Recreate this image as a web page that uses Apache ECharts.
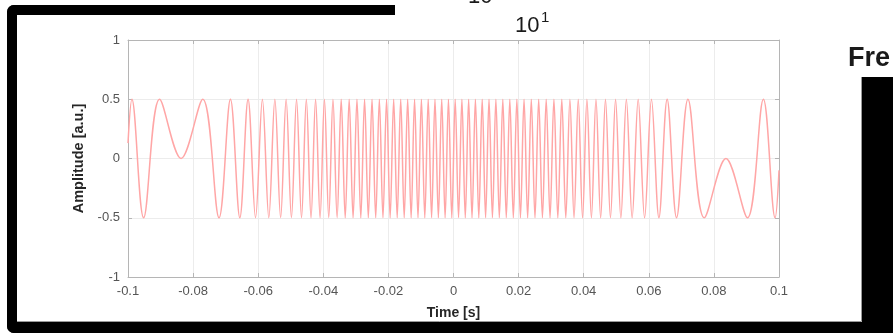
<!DOCTYPE html>
<html>
<head>
<meta charset="utf-8">
<script src="https://cdn.jsdelivr.net/npm/echarts@6/dist/echarts.min.js"></script>
<style>
  html, body { margin: 0; padding: 0; background: #ffffff; }
  #chart { width: 893px; height: 333px; }
</style>
</head>
<body>
<div id="chart"></div>
<script>
// Chirp signal: extrema of the waveform, in seconds
const peakTimes = [
  -0.0988, -0.0903,
  -0.07703, -0.06853, -0.06311, -0.05871, -0.05488, -0.05142, -0.04822, -0.04521, -0.04237,
  -0.03965, -0.03703, -0.03450, -0.03205, -0.02966, -0.02732, -0.02503, -0.02278, -0.02056,
  -0.01838, -0.01622, -0.01408, -0.01196, -0.00986, -0.00777, -0.00569, -0.00362, -0.00155,
  0.00052, 0.00258, 0.00465, 0.00673, 0.00882, 0.01091, 0.01302, 0.01515, 0.01730, 0.01947,
  0.02167, 0.02390, 0.02617, 0.02848, 0.03085, 0.03327, 0.03576, 0.03833, 0.04099, 0.04377,
  0.04669, 0.04979, 0.05311, 0.05674, 0.06082, 0.06564, 0.07204,
  0.0952
];
const troughTimes = [
  -0.0952,
  -0.07204, -0.06564, -0.06082, -0.05674, -0.05311, -0.04979, -0.04669, -0.04377, -0.04099,
  -0.03833, -0.03576, -0.03327, -0.03085, -0.02848, -0.02617, -0.02390, -0.02167, -0.01947,
  -0.01730, -0.01515, -0.01302, -0.01091, -0.00882, -0.00673, -0.00465, -0.00258, -0.00052,
  0.00155, 0.00362, 0.00569, 0.00777, 0.00986, 0.01196, 0.01408, 0.01622, 0.01838, 0.02056,
  0.02278, 0.02503, 0.02732, 0.02966, 0.03205, 0.03450, 0.03703, 0.03965, 0.04237, 0.04521,
  0.04822, 0.05142, 0.05488, 0.05871, 0.06311, 0.06853, 0.07703,
  0.0903, 0.0988
];
const peakValue = 0.5;
const troughValue = -0.5;
// Turning points where the instantaneous frequency passes through zero
const turnTimes = [-0.0837, 0.0837];
const turnValues = [0, 0];
// First and last samples of the record
const endTimes = [-0.1, 0.1];
const endValues = [0.13, -0.1];

const xTickValues = [-0.1, -0.08, -0.06, -0.04, -0.02, 0, 0.02, 0.04, 0.06, 0.08, 0.1];
const xTickLabels = ['-0.1', '-0.08', '-0.06', '-0.04', '-0.02', '0', '0.02', '0.04', '0.06', '0.08', '0.1'];
const yTickValues = [-1, -0.5, 0, 0.5, 1];
const yTickLabels = ['-1', '-0.5', '0', '0.5', '1'];

// Assemble the waveform points in time order
const points = [];
peakTimes.forEach(t => points.push([t, peakValue]));
troughTimes.forEach(t => points.push([t, troughValue]));
turnTimes.forEach((t, i) => points.push([t, turnValues[i]]));
endTimes.forEach((t, i) => points.push([t, endValues[i]]));
points.sort((a, b) => a[0] - b[0]);

function labelFor(values, labels) {
  return v => {
    let best = 0;
    values.forEach((tv, i) => { if (Math.abs(tv - v) < Math.abs(values[best] - v)) best = i; });
    return labels[best];
  };
}

const axisGray = '#b5b5b5';
const gridGray = '#ececec';
const tickText = '#555555';
const labelFont = 'Liberation Sans, Arial, Helvetica, sans-serif';

const chart = echarts.init(document.getElementById('chart'), null, { renderer: 'canvas' });

const xMin = xTickValues[0], xMax = xTickValues[xTickValues.length - 1];
const xStep = xTickValues[1] - xTickValues[0];
const yMin = yTickValues[0], yMax = yTickValues[yTickValues.length - 1];
const yStep = yTickValues[1] - yTickValues[0];

chart.setOption({
  animation: false,
  backgroundColor: '#ffffff',
  grid: { left: 128, top: 40, width: 651, height: 237, containLabel: false },
  xAxis: [
    {
      type: 'value', min: xMin, max: xMax, interval: xStep, position: 'bottom',
      axisLine: { show: true, onZero: false, lineStyle: { color: axisGray, width: 1 } },
      axisTick: { show: true, inside: true, length: 4, lineStyle: { color: axisGray } },
      axisLabel: { fontSize: 13, color: tickText, margin: 8, fontFamily: labelFont,
                   formatter: labelFor(xTickValues, xTickLabels) },
      splitLine: { show: true, lineStyle: { color: gridGray, width: 1 } },
      name: 'Time [s]', nameLocation: 'middle', nameGap: 29,
      nameTextStyle: { fontWeight: 'bold', fontSize: 14, color: '#262626', fontFamily: labelFont }
    },
    {
      type: 'value', min: xMin, max: xMax, interval: xStep, position: 'top',
      axisLine: { show: true, onZero: false, lineStyle: { color: axisGray, width: 1 } },
      axisTick: { show: true, inside: true, length: 4, lineStyle: { color: axisGray } },
      axisLabel: { show: false }, splitLine: { show: false }
    }
  ],
  yAxis: [
    {
      type: 'value', min: yMin, max: yMax, interval: yStep, position: 'left',
      axisLine: { show: true, onZero: false, lineStyle: { color: axisGray, width: 1 } },
      axisTick: { show: true, inside: true, length: 4, lineStyle: { color: axisGray } },
      axisLabel: { fontSize: 13, color: tickText, margin: 8, fontFamily: labelFont,
                   formatter: labelFor(yTickValues, yTickLabels) },
      splitLine: { show: true, lineStyle: { color: gridGray, width: 1 } },
      name: 'Amplitude [a.u.]', nameLocation: 'middle', nameGap: 34,
      nameTextStyle: { fontWeight: 'bold', fontSize: 14.5, color: '#262626', fontFamily: labelFont }
    },
    {
      type: 'value', min: yMin, max: yMax, interval: yStep, position: 'right',
      axisLine: { show: true, onZero: false, lineStyle: { color: axisGray, width: 1 } },
      axisTick: { show: true, inside: true, length: 4, lineStyle: { color: axisGray } },
      axisLabel: { show: false }, splitLine: { show: false }
    }
  ],
  series: [
    {
      type: 'line',
      xAxisIndex: 0, yAxisIndex: 0,
      data: points,
      smooth: 0.36,
      showSymbol: false,
      sampling: null,
      lineStyle: { color: '#ffa6a6', width: 1.5 },
      z: 3
    }
  ],
  graphic: [
    // window frame around the figure panel
    { type: 'rect', z: -5, shape: { x: 7, y: 5, width: 388, height: 10, r: [7, 0, 0, 0] }, style: { fill: '#000' } },
    { type: 'rect', z: -5, shape: { x: 7, y: 5, width: 10, height: 328, r: [7, 0, 0, 7] }, style: { fill: '#000' } },
    { type: 'rect', z: -5, shape: { x: 7, y: 322, width: 886, height: 11, r: [0, 0, 0, 7] }, style: { fill: '#000' } },
    { type: 'rect', z: -5, shape: { x: 862, y: 77, width: 31, height: 256 }, style: { fill: '#000' } },
    { type: 'line', z: -4, shape: { x1: 861.5, y1: 77, x2: 861.5, y2: 321.5 }, style: { stroke: '#9a9a9a', lineWidth: 1 } },
    { type: 'line', z: -4, shape: { x1: 17, y1: 321.5, x2: 861.5, y2: 321.5 }, style: { stroke: '#9a9a9a', lineWidth: 1 } },
    // neighbouring panel text
    { type: 'text', z: 5, x: 468, y: -3, style: { text: '10', fontSize: 22, fontFamily: labelFont, fill: '#1a1a1a', verticalAlign: 'middle' } },
    { type: 'text', z: 5, x: 515, y: 26, style: { text: '10', fontSize: 22, fontFamily: labelFont, fill: '#1a1a1a', verticalAlign: 'middle' } },
    { type: 'text', z: 5, x: 541, y: 18, style: { text: '1', fontSize: 15, fontFamily: labelFont, fill: '#1a1a1a', verticalAlign: 'middle' } },
    { type: 'text', z: 5, x: 848, y: 59, style: { text: 'Fre', fontSize: 27, fontWeight: 'bold', fontFamily: labelFont, fill: '#1a1a1a', verticalAlign: 'middle' } }
  ]
});
</script>
</body>
</html>
